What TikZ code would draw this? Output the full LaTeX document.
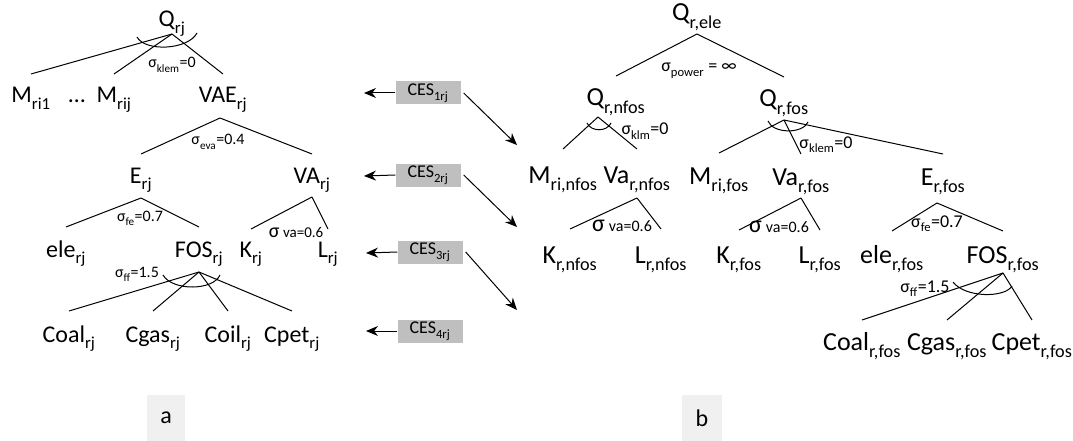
\documentclass[tikz,border=0pt]{standalone}
\usepackage{fontspec}
\setmainfont{Carlito}
\usetikzlibrary{arrows.meta}
\definecolor{CesGray}{HTML}{BFBFBF}
\definecolor{TagGray}{HTML}{F0F0F0}
\newcommand{\ix}[1]{\raisebox{-0.12em}{\textsubscript{#1}}}
\tikzset{
    var/.style={anchor=base, inner sep=0pt, font=\fontsize{24}{28}\selectfont},
    varb/.style={anchor=base, inner sep=0pt, font=\fontsize{26}{30}\selectfont},
    elas/.style={anchor=base, inner sep=0pt, font=\fontsize{16}{19}\selectfont},
    elasb/.style={anchor=base, inner sep=0pt, font=\fontsize{18}{21}\selectfont},
    cesbox/.style={rectangle, fill=CesGray, minimum width=65pt, minimum height=23pt, inner sep=0pt, font=\fontsize{18}{21}\selectfont},
    tag/.style={rectangle, fill=TagGray, minimum width=38pt, minimum height=46pt, inner sep=0pt, font=\fontsize{24}{28}\selectfont},
    branch/.style={line width=1pt, black},
    arrow/.style={-{Stealth[length=12pt,width=10pt]}, line width=1pt, black},
}

\begin{document}
\begin{tikzpicture}[x=1pt, y=-1pt]
    \useasboundingbox (0,0) rectangle (1073,441);

    % (a) nested CES tree
    \node[var] (Qrj) at (172,27) {Q\ix{rj}};
    \node[var] (Mri1) at (31,103) {M\ix{ri1}};
    \node[var] (dots) at (77,103) {…};
    \node[var] (Mrij) at (114,103) {M\ix{rij}};
    \node[var] (VAErj) at (223,103) {VAE\ix{rj}};
    \node[var] (Erj) at (141,183) {E\ix{rj}};
    \node[var] (VArj) at (312,183) {VA\ix{rj}};
    \node[var] (elerj) at (66,257) {ele\ix{rj}};
    \node[var] (FOSrj) at (199,257) {FOS\ix{rj}};
    \node[var] (Krj) at (251,257) {K\ix{rj}};
    \node[var] (Lrj) at (328,257) {L\ix{rj}};
    \node[var] (Coalrj) at (69,342) {Coal\ix{rj}};
    \node[var] (Cgasrj) at (153,342) {Cgas\ix{rj}};
    \node[var] (Coilrj) at (228,342) {Coil\ix{rj}};
    \node[var] (Cpetrj) at (292,342) {Cpet\ix{rj}};

    % elasticities (a)
    \node[elas] (sklem) at (172,68) {σ\ix{klem}=0};
    \node[elas] (seva) at (218,145) {σ\ix{eva}=0.4};
    \node[elas] (sfe) at (140,221) {σ\ix{fe}=0.7};
    \node[elas] (sva) at (296,237) {{\fontsize{20}{24}\selectfont σ} {\fontsize{15}{18}\selectfont va=0.6}};
    \node[elas] (sff) at (137,277) {σ\ix{ff}=1.5};

    \foreach \c in {Mri1,Mrij,VAErj}
        \draw[branch] ([yshift=-7pt]Qrj.base) -- ([yshift=29pt]\c.base);
    \foreach \c in {Erj,VArj}
        \draw[branch] ([xshift=-3pt,yshift=-15pt]VAErj.base) -- ([yshift=29pt]\c.base);
    \foreach \c in {elerj,FOSrj}
        \draw[branch] ([yshift=-15pt]Erj.base) -- ([yshift=30pt]\c.base);
    \foreach \c in {Krj,Lrj}
        \draw[branch] ([yshift=-14pt]VArj.base) -- ([yshift=28pt]\c.base);
    \foreach \c in {Coalrj,Cgasrj,Coilrj,Cpetrj}
        \draw[branch] ([yshift=-15pt]FOSrj.base) -- ([yshift=31pt]\c.base);
    \draw[branch] (137,37) .. controls (145,52) and (188,50) .. (197,33);
    \draw[branch] (163,275) .. controls (172,291) and (213,291) .. (220,275);

    % (b) electricity sector tree
    \node[varb] (Qele) at (697,21) {Q\ix{r,ele}};
    \node[varb] (Qnfos) at (616,106) {Q\ix{r,nfos}};
    \node[varb] (Qfos) at (784,107) {Q\ix{r,fos}};
    \node[varb] (Mnfos) at (563,183) {M\ix{ri,nfos}};
    \node[varb] (Vanfos) at (637,183) {Va\ix{r,nfos}};
    \node[varb] (Mfos) at (719,184) {M\ix{ri,fos}};
    \node[varb] (Vafos) at (801,185) {Va\ix{r,fos}};
    \node[varb] (Efos) at (943,185) {E\ix{r,fos}};
    \node[varb] (Knfos) at (570,263) {K\ix{r,nfos}};
    \node[varb] (Lnfos) at (661,263) {L\ix{r,nfos}};
    \node[varb] (Kfos) at (739,263) {K\ix{r,fos}};
    \node[varb] (Lfos) at (820,263) {L\ix{r,fos}};
    \node[varb] (elefos) at (892,263) {ele\ix{r,fos}};
    \node[varb] (FOSfos) at (1003,263) {FOS\ix{r,fos}};
    \node[varb] (Coalfos) at (862,350) {Coal\ix{r,fos}};
    \node[varb] (Cgasfos) at (947,350) {Cgas\ix{r,fos}};
    \node[varb] (Cpetfos) at (1032,350) {Cpet\ix{r,fos}};

    % elasticities (b)
    \node[elasb] (spower) at (699,72) {σ\ix{power} = ∞};
    \node[elasb] (sklm) at (645,135) {σ\ix{klm}=0};
    \node[elasb] (sklemfos) at (826,148) {σ\ix{klem}=0};
    \node[elasb] (svanfos) at (622,231) {{\fontsize{24}{28}\selectfont σ} {\fontsize{16}{19}\selectfont va=0.6}};
    \node[elasb] (svafos) at (779,232) {{\fontsize{24}{28}\selectfont σ} {\fontsize{16}{19}\selectfont va=0.6}};
    \node[elasb] (sfefos) at (937,227) {σ\ix{fe}=0.7};
    \node[elasb] (sfffos) at (925,292) {σ\ix{ff}=1.5};

    \foreach \c in {Qnfos,Qfos}
        \draw[branch] ([yshift=-13pt]Qele.base) -- ([yshift=30pt]\c.base);
    \foreach \c in {Mnfos,Vanfos}
        \draw[branch] ([xshift=-18pt,yshift=-11pt]Qnfos.base) -- ([yshift=34pt]\c.base);
    \foreach \c in {Mfos,Vafos,Efos}
        \draw[branch] ([yshift=-13pt]Qfos.base) -- ([yshift=31pt]\c.base);
    \foreach \c in {Knfos,Lnfos}
        \draw[branch] ([yshift=-15pt]Vanfos.base) -- ([yshift=34pt]\c.base);
    \foreach \c in {Kfos,Lfos}
        \draw[branch] ([yshift=-13pt]Vafos.base) -- ([yshift=33pt]\c.base);
    \foreach \c in {elefos,FOSfos}
        \draw[branch] ([xshift=-6pt,yshift=-18pt]Efos.base) -- ([yshift=32pt]\c.base);
    \foreach \c in {Coalfos,Cgasfos,Cpetfos}
        \draw[branch] ([yshift=-10pt]FOSfos.base) -- ([yshift=30pt]\c.base);
    \draw[branch] (587,123) .. controls (591,132) and (607,132) .. (611,123);
    \draw[branch] (768,121) .. controls (773,134) and (803,134) .. (808,122);
    \draw[branch] (953,282) .. controls (965,298) and (1005,298) .. (1012,286);

    % CES levels between the trees
    \node[cesbox] (ces1) at (428,93) {CES\ix{1rj}};
    \node[cesbox] (ces2) at (428,175) {CES\ix{2rj}};
    \node[cesbox] (ces3) at (430,252) {CES\ix{3rj}};
    \node[cesbox] (ces4) at (430,331) {CES\ix{4rj}};
    \coordinate (la) at (364,93);
    \coordinate (lb) at (364,176);
    \coordinate (lc) at (366,253);
    \coordinate (ld) at (366,331);
    \coordinate (ra) at (517,145);
    \coordinate (rb) at (517,227);
    \coordinate (rc) at (517,310);
    \draw[arrow] (ces1.west) -- (la);
    \draw[arrow] (ces2.west) -- (lb);
    \draw[arrow] (ces3.west) -- (lc);
    \draw[arrow] (ces4.west) -- (ld);
    \draw[arrow] ([xshift=3pt]ces1.east) -- (ra);
    \draw[arrow] ([xshift=3pt]ces2.east) -- (rb);
    \draw[arrow] ([xshift=3pt]ces3.east) -- (rc);

    % panel tags
    \node[tag] (taga) at (166,418) {a};
    \node[tag, minimum width=40pt, minimum height=47pt] (tagb) at (702,418) {b};
\end{tikzpicture}
\end{document}
